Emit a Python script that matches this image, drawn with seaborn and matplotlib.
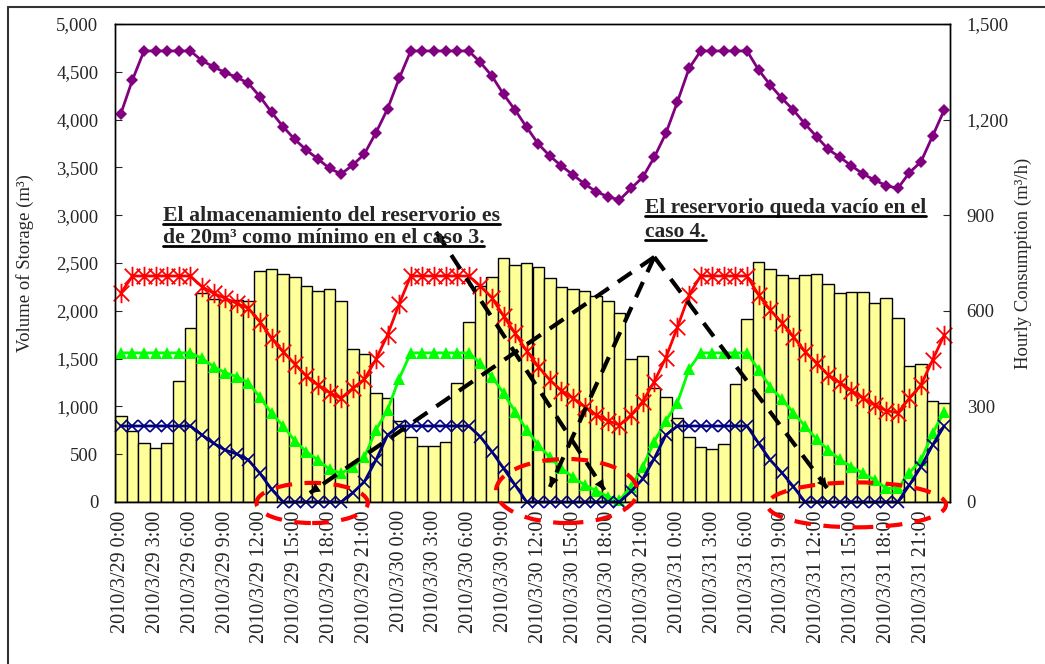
import numpy as np
import pandas as pd
import matplotlib
matplotlib.use("Agg")
import matplotlib.pyplot as plt
import seaborn as sns
from matplotlib.path import Path
from matplotlib.patches import Ellipse
from matplotlib.lines import Line2D
from matplotlib.ticker import FuncFormatter, MultipleLocator

# ---- data -----------------------------------------------------------------
days = ["2010/3/29", "2010/3/30", "2010/3/31"]
time_labels = [f"{d} {h}:00" for d in days for h in range(24)]

consumption = [270, 223, 184, 170, 184, 380, 545, 657, 636, 634, 634, 631,
               726, 730, 715, 707, 679, 663, 668, 631, 479, 464, 343, 325,
               253, 205, 176, 176, 189, 374, 566, 678, 707, 765, 744, 749,
               738, 702, 674, 667, 663, 646, 631, 592, 448, 458, 357, 329,
               263, 205, 174, 165, 181, 370, 573, 752, 730, 712, 702, 712,
               715, 683, 655, 659, 659, 625, 639, 578, 427, 432, 318, 312]

storage_case1 = [4060, 4414, 4718, 4718, 4718, 4718, 4718, 4616, 4553, 4491, 4443, 4380,
                 4240, 4076, 3925, 3793, 3682, 3588, 3490, 3431, 3525, 3640, 3863, 4111,
                 4430, 4718, 4718, 4718, 4718, 4718, 4718, 4599, 4456, 4265, 4100, 3919,
                 3745, 3619, 3515, 3421, 3326, 3246, 3194, 3159, 3281, 3396, 3606, 3856,
                 4187, 4536, 4718, 4718, 4718, 4718, 4718, 4519, 4362, 4223, 4100, 3954,
                 3821, 3689, 3606, 3518, 3431, 3368, 3309, 3281, 3445, 3560, 3828, 4100]

storage_case2 = [2183, 2364, 2364, 2364, 2364, 2364, 2364, 2252, 2183, 2131, 2078, 2026,
                 1886, 1712, 1573, 1444, 1318, 1224, 1144, 1085, 1189, 1283, 1492, 1747,
                 2071, 2364, 2364, 2364, 2364, 2364, 2364, 2259, 2137, 1946, 1764, 1580,
                 1416, 1276, 1164, 1085, 997, 910, 850, 805, 910, 1050, 1260, 1510,
                 1830, 2165, 2364, 2364, 2364, 2364, 2364, 2165, 2008, 1876, 1729, 1573,
                 1451, 1328, 1248, 1164, 1085, 1015, 955, 934, 1085, 1224, 1485, 1747]

storage_case3 = [1560, 1560, 1560, 1560, 1560, 1560, 1560, 1503, 1416, 1353, 1311, 1248,
                 1095, 928, 795, 641, 526, 439, 342, 300, 369, 467, 753, 962,
                 1290, 1560, 1560, 1560, 1560, 1560, 1560, 1451, 1311, 1137, 945, 753,
                 596, 467, 352, 258, 178, 118, 56, 20, 160, 369, 631, 850,
                 1040, 1390, 1560, 1560, 1560, 1560, 1560, 1381, 1206, 1074, 934, 795,
                 656, 544, 446, 369, 300, 230, 143, 143, 307, 439, 719, 945]

storage_case4 = [795, 795, 795, 795, 795, 795, 795, 701, 614, 544, 502, 439,
                 300, 133, 0, 0, 0, 0, 0, 0, 97, 212, 439, 700,
                 795, 795, 795, 795, 795, 795, 795, 683, 526, 352, 178, 0,
                 0, 0, 0, 0, 0, 0, 0, 0, 110, 240, 455, 700,
                 795, 795, 795, 795, 795, 795, 795, 614, 439, 307, 160, 0,
                 0, 0, 0, 0, 0, 0, 0, 0, 178, 369, 596, 795]

note_case3 = ["El almacenamiento del reservorio es", "de 20m\u00b3 como m\u00ednimo en el caso 3."]
note_case4 = ["El reservorio queda vac\u00edo en el", "caso 4."]

# ---- style ----------------------------------------------------------------
sns.set_style("white")
plt.rcParams["font.family"] = ["Liberation Serif", "DejaVu Serif"]
plt.rcParams["axes.linewidth"] = 1.0

W, H = 1045, 664
fig = plt.figure(figsize=(W / 100, H / 100), dpi=100)
ax = fig.add_axes([115 / W, 1 - 502 / H, 835 / W, 478 / H])

hours = np.arange(len(time_labels))

# bars: hourly consumption (right-hand scale)
sns.barplot(x=time_labels, y=consumption, ax=ax, color="#FFFF99",
            edgecolor="black", linewidth=1.0, width=1.0, saturation=1)
ax.set_xlim(-0.5, len(time_labels) - 0.5)
ax.set_ylim(0, 1500)
ax.set_xticks(hours[::3])
ax.set_xticklabels(time_labels[::3], rotation=90, fontsize=14.5)
ax.tick_params(axis="x", length=0, pad=6)
ax.set_xlabel("")

# lines: volume of storage (left-hand scale)
ax2 = ax.twinx()

ax.yaxis.tick_right()
ax.yaxis.set_label_position("right")
ax.yaxis.set_major_locator(MultipleLocator(300))
ax.yaxis.set_major_formatter(FuncFormatter(lambda v, p: f"{int(v):,}"))
ax.set_ylabel("Hourly Consumption (m\u00b3/h)", fontsize=13.5)
ax.yaxis.set_label_coords(1.077, 0.5)
ax.tick_params(axis="y", direction="in", length=5, labelsize=13.5, pad=12,
               right=True, left=False, labelright=True, labelleft=False)

ax2.yaxis.tick_left()
ax2.yaxis.set_label_position("left")
ax2.set_ylim(0, 5000)
ax2.yaxis.set_major_locator(MultipleLocator(500))
ax2.yaxis.set_major_formatter(FuncFormatter(lambda v, p: f"{int(v):,}"))
ax2.tick_params(axis="y", direction="in", length=5, labelsize=13.5, pad=12,
                left=True, right=False, labelleft=True, labelright=False)
ax2.set_ylabel("Volume of Storage (m\u00b3)", fontsize=13.5)
ax2.yaxis.set_label_coords(-0.097, 0.5)

star = Path([(-1, -1), (1, 1), (-1, 1), (1, -1), (0, -1.25), (0, 1.25)],
            [Path.MOVETO, Path.LINETO, Path.MOVETO, Path.LINETO, Path.MOVETO, Path.LINETO])

series = [
    (storage_case1, "#800080", dict(marker="D", markersize=6, markeredgewidth=0)),
    (storage_case2, "#FF0000", dict(marker=star, markersize=14, markeredgewidth=1.3,
                                   markerfacecolor="none")),
    (storage_case3, "#00FF00", dict(marker="^", markersize=8, markeredgewidth=0)),
    (storage_case4, "#000080", dict(marker="x", markersize=9, markeredgewidth=1.2)),
]
for values, col, mk in series:
    sns.lineplot(x=hours, y=values, ax=ax2, color=col, linewidth=2,
                 markeredgecolor=col, clip_on=False, legend=False, **mk)
ax2.set_xlim(-0.5, len(time_labels) - 0.5)
ax2.set_xlabel("")

for a in (ax, ax2):
    for s in a.spines.values():
        s.set_visible(True)
        s.set_color("black")
        s.set_linewidth(1.0)

# dashed red rings around the lowest levels
rings = [((16.5, -10), 9.6, 420), ((38.45, 115), 12.2, 670), ((63.45, -30), 15.4, 470)]
for (cx, cy), w, h in rings:
    ax2.add_patch(Ellipse((cx, cy), w, h, fill=False, edgecolor="red", lw=3,
                          linestyle=(0, (4, 3)), clip_on=False, zorder=6))

# dashed pointer arrows
def dashed_arrow(p0, p1, head_start=False):
    ax2.plot([p0[0], p1[0]], [p0[1], p1[1]], color="black", lw=3,
             linestyle=(0, (4, 2.6)), clip_on=False, zorder=7)
    def head(a, b):
        t = 0.06
        tail = (b[0] - (b[0] - a[0]) * t, b[1] - (b[1] - a[1]) * t)
        ax2.annotate("", xy=b, xytext=tail,
                     arrowprops=dict(arrowstyle="-|>", color="black", lw=0,
                                     mutation_scale=18, shrinkA=0, shrinkB=0),
                     zorder=8, annotation_clip=False)
    head(p0, p1)
    if head_start:
        head(p1, p0)

apex = (46.0, 2563)
dashed_arrow((27.2, 2824), (41.7, 126), head_start=True)
dashed_arrow(apex, (16.3, 94))
dashed_arrow(apex, (37.0, 157))
dashed_arrow(apex, (60.9, 146))

# notes
notes = []
for lines, x0, ys, fs in [(note_case3, 3.6, (2939, 2709), 15.7),
                          (note_case4, 45.2, (3023, 2772), 15.4)]:
    for line, y0 in zip(lines, ys):
        t = ax2.text(x0, y0, line, fontsize=fs, fontweight="bold", va="baseline",
                     ha="left", zorder=9)
        notes.append((t, x0, y0))

fig.canvas.draw()
renderer = fig.canvas.get_renderer()
for t, x0, y0 in notes:
    bb = t.get_window_extent(renderer)
    _, by = ax2.transData.transform((x0, y0))
    yline = by - 3
    fx0, fy = fig.transFigure.inverted().transform((bb.x0, yline))
    fx1, _ = fig.transFigure.inverted().transform((bb.x1, yline))
    fig.add_artist(Line2D([fx0, fx1], [fy, fy], color="black", lw=2))

# outer frame
fig.add_artist(Line2D([8 / W, 8 / W], [0, 1 - 7 / H], color="#333333", lw=1.5))
fig.add_artist(Line2D([8 / W, 1], [1 - 7 / H, 1 - 7 / H], color="#333333", lw=1.5))

fig.savefig("out.png", dpi=100)
